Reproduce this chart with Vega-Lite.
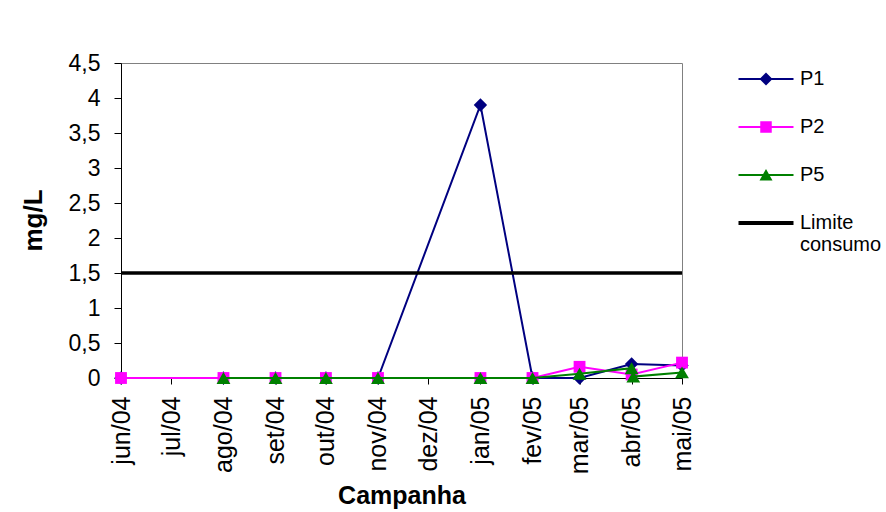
{
  "$schema": "https://vega.github.io/schema/vega-lite/v6.json",
  "width": 561,
  "height": 315,
  "autosize": {"type": "none"},
  "padding": {"left": 121, "top": 63, "right": 204, "bottom": 134},
  "background": "white",
  "config": {
    "font": "Liberation Sans",
    "view": {"stroke": "#808080", "strokeWidth": 1},
    "axis": {
      "grid": false,
      "domainColor": "black",
      "tickColor": "black",
      "labelColor": "black",
      "titleColor": "black",
      "labelFont": "Liberation Sans",
      "titleFont": "Liberation Sans"
    }
  },
  "data": {
    "values": [
      {"date": "2004-06-01", "series": "P1", "value": 0},
      {"date": "2004-08-01", "series": "P1", "value": 0},
      {"date": "2004-09-01", "series": "P1", "value": 0},
      {"date": "2004-10-01", "series": "P1", "value": 0},
      {"date": "2004-11-01", "series": "P1", "value": 0},
      {"date": "2005-01-01", "series": "P1", "value": 3.9},
      {"date": "2005-02-01", "series": "P1", "value": 0},
      {"date": "2005-03-01", "series": "P1", "value": 0},
      {"date": "2005-04-01", "series": "P1", "value": 0.2},
      {"date": "2005-05-01", "series": "P1", "value": 0.18},
      {"date": "2004-06-01", "series": "P2", "value": 0},
      {"date": "2004-08-01", "series": "P2", "value": 0},
      {"date": "2004-09-01", "series": "P2", "value": 0},
      {"date": "2004-10-01", "series": "P2", "value": 0},
      {"date": "2004-11-01", "series": "P2", "value": 0},
      {"date": "2005-01-01", "series": "P2", "value": 0},
      {"date": "2005-02-01", "series": "P2", "value": 0},
      {"date": "2005-03-01", "series": "P2", "value": 0.16},
      {"date": "2005-04-01", "series": "P2", "value": 0.05},
      {"date": "2005-05-01", "series": "P2", "value": 0.22},
      {"date": "2004-08-01", "series": "P5", "value": 0},
      {"date": "2004-09-01", "series": "P5", "value": 0},
      {"date": "2004-10-01", "series": "P5", "value": 0},
      {"date": "2004-11-01", "series": "P5", "value": 0},
      {"date": "2005-01-01", "series": "P5", "value": 0},
      {"date": "2005-02-01", "series": "P5", "value": 0},
      {"date": "2005-03-01", "series": "P5", "value": 0.06},
      {"date": "2005-04-01", "series": "P5", "value": 0.14},
      {"date": "2005-04-02", "series": "P5", "value": 0.02},
      {"date": "2005-05-01", "series": "P5", "value": 0.08},
      {"date": "2004-06-01", "series": "Limite consumo", "value": 1.5},
      {"date": "2005-05-01", "series": "Limite consumo", "value": 1.5}
    ]
  },
  "encoding": {
    "x": {
      "field": "date",
      "type": "temporal",
      "scale": {
        "type": "utc",
        "domain": [
          {"year": 2004, "month": 6, "date": 1, "utc": true},
          {"year": 2005, "month": 5, "date": 1, "utc": true}
        ]
      },
      "axis": {
        "title": "Campanha",
        "titleFontSize": 25,
        "titleFontWeight": "bold",
        "titleY": 125,
        "titleBaseline": "alphabetic",
        "labelAngle": 270,
        "labelFontSize": 25,
        "labelPadding": 12,
        "labelOverlap": false,
        "tickSize": 6,
        "values": [
          {"year": 2004, "month": 6, "date": 1, "utc": true},
          {"year": 2004, "month": 7, "date": 1, "utc": true},
          {"year": 2004, "month": 8, "date": 1, "utc": true},
          {"year": 2004, "month": 9, "date": 1, "utc": true},
          {"year": 2004, "month": 10, "date": 1, "utc": true},
          {"year": 2004, "month": 11, "date": 1, "utc": true},
          {"year": 2004, "month": 12, "date": 1, "utc": true},
          {"year": 2005, "month": 1, "date": 1, "utc": true},
          {"year": 2005, "month": 2, "date": 1, "utc": true},
          {"year": 2005, "month": 3, "date": 1, "utc": true},
          {"year": 2005, "month": 4, "date": 1, "utc": true},
          {"year": 2005, "month": 5, "date": 1, "utc": true}
        ],
        "labelExpr": "['jan','fev','mar','abr','mai','jun','jul','ago','set','out','nov','dez'][utcmonth(datum.value)] + '/' + utcFormat(datum.value, '%y')"
      }
    },
    "y": {
      "field": "value",
      "type": "quantitative",
      "scale": {"domain": [0, 4.5], "nice": false},
      "axis": {
        "title": "mg/L",
        "titleFontSize": 26,
        "titleFontWeight": "bold",
        "titleAngle": 270,
        "titleX": -88,
        "titleY": 157,
        "titleAlign": "center",
        "titleBaseline": "middle",
        "labelFontSize": 23,
        "labelPadding": 14,
        "tickSize": 7,
        "values": [0, 0.5, 1, 1.5, 2, 2.5, 3, 3.5, 4, 4.5],
        "labelExpr": "replace(toString(datum.value), '.', ',')"
      }
    }
  },
  "layer": [
    {
      "transform": [{"filter": "datum.series === 'P1'"}],
      "mark": {"type": "line", "color": "#000080", "strokeWidth": 2, "point": {"shape": "diamond", "size": 180, "filled": true, "opacity": 1, "color": "#000080"}}
    },
    {
      "transform": [{"filter": "datum.series === 'P2'"}],
      "mark": {"type": "line", "color": "#FF00FF", "strokeWidth": 2, "point": {"shape": "square", "size": 140, "filled": true, "opacity": 1, "color": "#FF00FF"}}
    },
    {
      "transform": [{"filter": "datum.series === 'P5'"}],
      "mark": {"type": "line", "color": "#008000", "strokeWidth": 2, "point": {"shape": "triangle-up", "size": 190, "filled": true, "opacity": 1, "color": "#008000"}}
    },
    {
      "transform": [{"filter": "datum.series === 'Limite consumo'"}],
      "mark": {"type": "line", "color": "#000000", "strokeWidth": 3.5}
    },
    {
      "mark": {"type": "point", "filled": true, "size": 0, "opacity": 1},
      "encoding": {
        "color": {
          "field": "series",
          "type": "nominal",
          "scale": {
            "domain": ["P1", "P2", "P5", "Limite consumo"],
            "range": ["#000080", "#FF00FF", "#008000", "#000000"]
          },
          "legend": {
            "title": null,
            "orient": "none",
            "legendX": 635,
            "legendY": 6,
            "padding": 0,
            "symbolSize": 100,
            "symbolStrokeWidth": 0,
            "symbolOpacity": 1,
            "labelFont": "Liberation Sans",
            "labelFontSize": 20,
            "labelColor": "black",
            "labelOffset": 24,
            "labelLimit": 200,
            "rowPadding": 28,
            "labelExpr": "datum.value == 'Limite consumo' ? ['Limite', 'consumo'] : datum.label"
          }
        },
        "shape": {
          "field": "series",
          "type": "nominal",
          "scale": {
            "domain": ["P1", "P2", "P5", "Limite consumo"],
            "range": [
              "M-5.5,-0.2H5.5V0.2H-5.5ZM0,-1.3L1.3,0L0,1.3L-1.3,0Z",
              "M-5.5,-0.2H5.5V0.2H-5.5ZM-1.15,-1.15H1.15V1.15H-1.15Z",
              "M-5.5,-0.2H5.5V0.2H-5.5ZM0,-1.2L1.3,1.1H-1.3Z",
              "M-5.5,-0.4H5.5V0.4H-5.5Z"
            ]
          }
        }
      }
    }
  ]
}
